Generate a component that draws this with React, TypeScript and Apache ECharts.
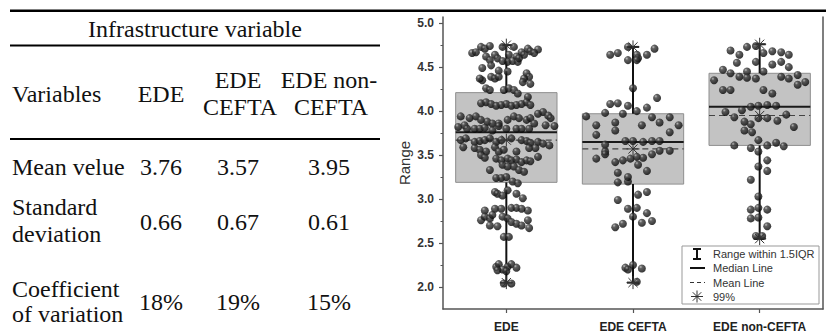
import React, { useEffect, useRef } from "react";
import * as echarts from "echarts";

// ---------- chart data ----------
const categories = ["EDE", "EDE CEFTA", "EDE non-CEFTA"];
const whiskerLow = [2.05, 2.05, 2.55];
const quartile1 = [3.19, 3.17, 3.61];
const medians = [3.76, 3.65, 4.05];
const quartile3 = [4.21, 3.97, 4.43];
const whiskerHigh = [4.75, 4.73, 4.76];
const means = [3.67, 3.57, 3.95];

const yMajorTicks = [2.0, 2.5, 3.0, 3.5, 4.0, 4.5, 5.0];
const yMinorTicks = [2.25, 2.75, 3.25, 3.75, 4.25, 4.75];

// [horizontal jitter within the category, value]
const edePoints = [
  [-0.27, 4.66], [-0.24, 4.67], [-0.2, 4.73], [-0.17, 4.71], [-0.13, 4.74], [-0.16, 4.62],
  [-0.03, 4.73], [0.06, 4.73], [0.12, 4.67], [0.17, 4.71], [0.19, 4.68], [0.25, 4.7],
  [0.22, 4.66], [0.02, 4.64], [0.08, 4.62], [0.14, 4.64], [-0.09, 4.64], [-0.07, 4.6],
  [-0.13, 4.58], [-0.12, 4.52], [-0.19, 4.49], [-0.06, 4.46], [0.01, 4.56], [0.05, 4.57],
  [0.09, 4.56], [0.1, 4.6], [-0.03, 4.57], [-0.19, 4.35], [-0.12, 4.39], [-0.09, 4.37],
  [-0.06, 4.39], [0.01, 4.45], [0.16, 4.43], [0.18, 4.39], [0.14, 4.37], [0.19, 4.31],
  [0.13, 4.33], [-0.21, 4.37], [-0.16, 4.26], [-0.02, 4.24], [0.02, 4.26], [0.06, 4.24],
  [0.09, 4.2], [0.17, 4.16], [-0.13, 4.24],
  [-0.2, 4.09], [-0.16, 4.1], [-0.12, 4.08], [-0.08, 4.06], [-0.04, 4.07], [0.0, 4.08],
  [0.04, 4.06], [0.08, 4.07], [0.12, 4.08], [0.16, 4.1], [0.19, 4.07],
  [-0.36, 3.94], [-0.29, 3.92], [-0.24, 3.94], [-0.2, 3.9], [-0.15, 3.88], [-0.11, 3.86],
  [-0.06, 3.86], [0.01, 3.9], [0.06, 3.94], [0.1, 3.92], [0.16, 3.9], [0.19, 3.92],
  [0.25, 3.97], [0.29, 3.99], [0.33, 3.95], [0.35, 3.92], [0.22, 3.86],
  [-0.38, 3.82], [-0.33, 3.84], [-0.31, 3.8], [-0.25, 3.8], [-0.21, 3.8], [-0.17, 3.81],
  [-0.11, 3.78], [-0.06, 3.83], [0.0, 3.8], [0.08, 3.8], [0.12, 3.8], [0.18, 3.8],
  [0.31, 3.84], [0.38, 3.83],
  [-0.36, 3.67], [-0.32, 3.69], [-0.25, 3.65], [-0.21, 3.66], [-0.17, 3.67], [-0.13, 3.69],
  [-0.08, 3.65], [-0.04, 3.67], [0.04, 3.69], [0.12, 3.67], [0.16, 3.66], [0.19, 3.64],
  [0.25, 3.65], [0.29, 3.63], [0.34, 3.61],
  [-0.34, 3.59], [-0.25, 3.58], [-0.21, 3.56], [-0.16, 3.54], [-0.09, 3.59], [-0.06, 3.54],
  [-0.02, 3.56], [0.08, 3.54], [0.18, 3.58], [0.23, 3.58], [0.25, 3.48],
  [-0.2, 3.5], [-0.17, 3.47], [-0.08, 3.46], [-0.04, 3.44], [0.01, 3.46], [0.04, 3.44],
  [0.08, 3.45], [0.12, 3.42], [0.16, 3.44], [0.19, 3.43], [-0.03, 3.39], [0.01, 3.37],
  [0.06, 3.37], [0.1, 3.33], [0.14, 3.31], [-0.13, 3.33],
  [-0.08, 3.24], [-0.04, 3.24], [0.0, 3.25], [0.05, 3.2], [0.09, 3.18],
  [-0.09, 3.08], [-0.07, 3.06], [-0.03, 3.04], [0.01, 3.1], [0.08, 3.06], [0.13, 3.01],
  [-0.17, 2.87], [-0.09, 2.89], [-0.04, 2.89], [0.04, 2.9], [0.08, 2.9], [0.17, 2.87],
  [0.12, 2.89], [-0.2, 2.76], [-0.17, 2.8], [-0.13, 2.78], [-0.11, 2.82], [-0.03, 2.8],
  [0.01, 2.78], [0.04, 2.74], [0.08, 2.72], [0.12, 2.7], [0.18, 2.67], [0.17, 2.76],
  [-0.13, 2.7], [-0.07, 2.69], [-0.02, 2.57], [0.02, 2.57],
  [-0.08, 2.23], [-0.06, 2.26], [-0.03, 2.2], [0.01, 2.23], [0.04, 2.26], [0.08, 2.22],
  [-0.07, 2.19], [0.0, 2.18], [-0.02, 2.04], [0.04, 2.04],
];

const ceftaPoints = [
  [-0.18, 4.64], [-0.12, 4.66], [-0.04, 4.73], [0.03, 4.64], [0.04, 4.6], [-0.04, 4.58],
  [0.03, 4.58], [0.11, 4.64], [0.17, 4.71], [0.0, 4.26], [-0.18, 4.08], [-0.12, 4.09],
  [-0.04, 4.06], [0.19, 4.15], [0.11, 4.04], [0.03, 4.0], [-0.08, 3.97], [-0.22, 3.98],
  [-0.37, 3.94], [-0.29, 3.84], [-0.29, 3.73], [-0.14, 3.87], [-0.14, 3.78], [0.07, 3.84],
  [0.15, 3.93], [0.21, 3.87], [0.29, 3.93], [0.36, 3.84], [0.29, 3.76], [-0.22, 3.62],
  [-0.06, 3.66], [0.0, 3.66], [0.08, 3.65], [0.15, 3.66], [0.21, 3.66], [-0.22, 3.54],
  [0.21, 3.55], [0.29, 3.55], [-0.29, 3.46], [-0.22, 3.51], [-0.14, 3.42], [-0.08, 3.44],
  [-0.02, 3.46], [0.03, 3.48], [0.08, 3.47], [0.15, 3.51], [0.04, 3.39], [0.11, 3.32],
  [-0.12, 3.3], [-0.12, 3.19], [-0.04, 3.2], [-0.04, 3.25], [0.04, 3.05], [0.11, 3.08],
  [-0.12, 2.99], [-0.04, 2.89], [0.03, 2.9], [0.11, 2.84], [0.0, 2.8], [0.07, 2.73],
  [0.15, 2.75], [-0.14, 2.68], [-0.08, 2.72], [0.0, 2.25], [-0.06, 2.22], [-0.04, 2.2],
  [0.07, 2.21], [0.03, 2.06],
];

const nonCeftaPoints = [
  [-0.23, 4.69], [-0.16, 4.64], [-0.1, 4.73], [-0.03, 4.74], [0.03, 4.66], [0.1, 4.68],
  [0.17, 4.67], [0.23, 4.64], [-0.18, 4.55], [-0.03, 4.56], [0.1, 4.53], [0.17, 4.56],
  [0.23, 4.5], [-0.29, 4.47], [-0.23, 4.43], [-0.16, 4.39], [-0.1, 4.45], [-0.1, 4.38],
  [-0.03, 4.37], [0.03, 4.45], [0.17, 4.39], [0.23, 4.37], [0.3, 4.41], [0.3, 4.3],
  [0.36, 4.33], [-0.36, 4.35], [-0.29, 4.24], [-0.23, 4.24], [0.03, 4.24], [0.1, 4.2],
  [-0.27, 3.99], [-0.2, 3.93], [-0.14, 4.01], [-0.07, 4.05], [-0.01, 4.06], [0.06, 4.07],
  [0.13, 4.06], [-0.12, 3.88], [-0.07, 3.85], [-0.12, 3.78], [-0.06, 3.76], [-0.01, 3.92],
  [0.06, 3.92], [0.14, 3.89], [0.21, 3.96], [0.27, 3.82], [-0.2, 3.61], [-0.07, 3.58],
  [-0.01, 3.67], [0.06, 3.61], [0.13, 3.64], [0.19, 3.6], [-0.01, 3.54], [0.06, 3.44],
  [-0.01, 3.37], [0.06, 3.32], [-0.07, 3.22], [-0.01, 3.03], [-0.07, 2.88], [-0.01, 2.9],
  [0.06, 2.88], [-0.07, 2.78], [-0.01, 2.79], [0.06, 2.69], [-0.03, 2.58], [0.02, 2.58],
];

const pointGroups = [edePoints, ceftaPoints, nonCeftaPoints];

// ---------- table data ----------
const tableTitle = "Infrastructure variable";
const tableFirstHeader = "Variables";
const tableColumnHeaders = [["EDE"], ["EDE", "CEFTA"], ["EDE non-", "CEFTA"]];
const tableRowLabels = [["Mean velue"], ["Standard", "deviation"], ["Coefficient", "of variation"]];
const meanValues = ["3.76", "3.57", "3.95"];
const sdValues = ["0.66", "0.67", "0.61"];
const cvValues = ["18%", "19%", "15%"];
const tableRows = [meanValues, sdValues, cvValues];

const legendLabels = ["Range within 1.5IQR", "Median Line", "Mean Line", "99%"];

const SERIF = "'Liberation Serif', 'Times New Roman', serif";
const SANS = "'Liberation Sans', Arial, sans-serif";

function starLines(cx: number, cy: number, r: number) {
  const out: any[] = [];
  for (let k = 0; k < 4; k++) {
    const a = (k * Math.PI) / 4;
    const dx = r * Math.cos(a);
    const dy = r * Math.sin(a);
    out.push({
      type: "line",
      shape: { x1: cx - dx, y1: cy - dy, x2: cx + dx, y2: cy + dy },
      style: { stroke: "#333", lineWidth: 1 },
    });
  }
  return out;
}

export default function App() {
  const ref = useRef<HTMLDivElement>(null);

  useEffect(() => {
    document.body.style.margin = "0";
    const chart = echarts.init(ref.current!, null, { renderer: "svg" });

    const ballColor = new echarts.graphic.RadialGradient(0.35, 0.3, 0.7, [
      { offset: 0, color: "#b0b0b0" },
      { offset: 0.3, color: "#3a3a3a" },
      { offset: 1, color: "#050505" },
    ]);

    // table graphics
    const FS = 24;
    const colCenters = [161, 238, 329];
    const graphics: any[] = [];
    const txt = (text: string, x: number, y: number, align: string) =>
      graphics.push({
        type: "text",
        x,
        y,
        z: 100,
        style: { text, fill: "#111", font: `${FS}px ${SERIF}`, align, verticalAlign: "middle" },
      });
    const hline = (x1: number, x2: number, y: number, w: number) =>
      graphics.push({ type: "line", z: 100, shape: { x1, y1: y, x2, y2: y }, style: { stroke: "#000", lineWidth: w } });

    hline(10, 826, 10.7, 2.6);
    hline(10, 380, 45.6, 2);
    hline(10, 380, 139, 2);
    txt(tableTitle, 195, 29, "center");
    txt(tableFirstHeader, 12, 94, "left");
    tableColumnHeaders.forEach((lines, i) => {
      if (lines.length === 1) txt(lines[0], colCenters[i], 94, "center");
      else {
        txt(lines[0], colCenters[i], 80, "center");
        txt(lines[1], colCenters[i] + 2, 107, "center");
      }
    });
    const rowLabelYs = [[167], [207, 234], [289, 314]];
    const rowValueYs = [167, 222, 302];
    tableRowLabels.forEach((lines, r) => {
      lines.forEach((l, k) => txt(l, 12, rowLabelYs[r][k], "left"));
      tableRows[r].forEach((v, c) => txt(v, colCenters[c], rowValueYs[r], "center"));
    });

    // legend box
    const lx = 682, ly = 246;
    graphics.push({
      type: "rect",
      z: 100,
      shape: { x: lx, y: ly, width: 137, height: 58 },
      style: { fill: "#fff", stroke: "#999", lineWidth: 1 },
    });
    const rowY = [254, 268, 282.5, 296.5];
    const symX = 697;
    graphics.push({ type: "line", z: 101, shape: { x1: symX, y1: 249, x2: symX, y2: 259 }, style: { stroke: "#111", lineWidth: 2 } });
    graphics.push({ type: "line", z: 101, shape: { x1: symX - 4, y1: 249, x2: symX + 4, y2: 249 }, style: { stroke: "#111", lineWidth: 2 } });
    graphics.push({ type: "line", z: 101, shape: { x1: symX - 4, y1: 259, x2: symX + 4, y2: 259 }, style: { stroke: "#111", lineWidth: 2 } });
    graphics.push({ type: "line", z: 101, shape: { x1: 690, y1: rowY[1], x2: 705, y2: rowY[1] }, style: { stroke: "#111", lineWidth: 2 } });
    graphics.push({ type: "line", z: 101, shape: { x1: 690, y1: rowY[2], x2: 705, y2: rowY[2] }, style: { stroke: "#333", lineWidth: 1.2, lineDash: [4, 3] } });
    starLines(symX, rowY[3], 6).forEach((s) => graphics.push({ ...s, z: 101 }));
    legendLabels.forEach((l, i) =>
      graphics.push({
        type: "text",
        z: 101,
        x: 713,
        y: rowY[i],
        style: { text: l, fill: "#333", font: `11px ${SANS}`, align: "left", verticalAlign: "middle" },
      })
    );

    const boxData = categories.map((_, i) => [
      i, whiskerLow[i], quartile1[i], medians[i], quartile3[i], whiskerHigh[i], means[i],
    ]);
    const starData = categories.map((_, i) => [i, whiskerLow[i], whiskerHigh[i], means[i]]);

    const option: any = {
      animation: false,
      grid: { left: 443, right: 3, top: 17, bottom: 26 },
      xAxis: {
        type: "value",
        min: -0.5,
        max: 2.5,
        splitLine: { show: false },
        axisLine: { show: true, onZero: false, lineStyle: { color: "#555", width: 1.5 } },
        axisTick: { show: true, customValues: [0, 1, 2], length: 4, lineStyle: { color: "#555", width: 1.2 } },
        axisLabel: {
          customValues: [0, 1, 2],
          formatter: (v: number) => categories[Math.round(v)] ?? "",
          fontFamily: SANS,
          fontWeight: "bold",
          fontSize: 12,
          color: "#222",
          margin: 12,
        },
      },
      yAxis: [
        {
          type: "value",
          position: "left",
          min: 1.75,
          max: 5.07,
          splitLine: { show: false },
          axisLine: { show: true, onZero: false, lineStyle: { color: "#555", width: 1.5 } },
          axisTick: { show: true, customValues: yMajorTicks, length: 4, lineStyle: { color: "#555", width: 1.2 } },
          axisLabel: {
            customValues: yMajorTicks,
            formatter: (v: number) => v.toFixed(1),
            fontFamily: SANS,
            fontWeight: "bold",
            fontSize: 12,
            color: "#333",
            margin: 9,
          },
          name: "Range",
          nameLocation: "middle",
          nameGap: 31,
          nameTextStyle: { fontFamily: SANS, fontSize: 15, color: "#333" },
        },
        {
          type: "value",
          position: "left",
          min: 1.75,
          max: 5.07,
          splitLine: { show: false },
          axisLine: { show: false, onZero: false },
          axisTick: { show: true, customValues: yMinorTicks, length: 2.5, lineStyle: { color: "#555", width: 1 } },
          axisLabel: { show: false },
        },
        {
          type: "value",
          position: "right",
          min: 1.75,
          max: 5.07,
          splitLine: { show: false },
          axisLine: { show: true, onZero: false, lineStyle: { color: "#555", width: 1.5 } },
          axisTick: { show: false },
          axisLabel: { show: false },
        },
      ],
      graphic: graphics,
      series: [
        {
          type: "custom",
          z: 1,
          data: boxData,
          encode: { x: 0, y: [1, 2, 3, 4, 5, 6] },
          renderItem: (params: any, api: any) => {
            const x = api.value(0);
            const [cx, pLow] = api.coord([x, api.value(1)]);
            const pQ1 = api.coord([x, api.value(2)])[1];
            const pMed = api.coord([x, api.value(3)])[1];
            const pQ3 = api.coord([x, api.value(4)])[1];
            const pHigh = api.coord([x, api.value(5)])[1];
            const pMean = api.coord([x, api.value(6)])[1];
            const half = api.size([0.8, 0])[0] / 2;
            const cap = 6;
            return {
              type: "group",
              children: [
                { type: "rect", shape: { x: cx - half, y: pQ3, width: half * 2, height: pQ1 - pQ3 }, style: { fill: "#c3c3c3", stroke: "#8f8f8f", lineWidth: 1 } },
                { type: "line", shape: { x1: cx, y1: pQ3, x2: cx, y2: pHigh }, style: { stroke: "#111", lineWidth: 2 } },
                { type: "line", shape: { x1: cx, y1: pQ1, x2: cx, y2: pLow }, style: { stroke: "#111", lineWidth: 2 } },
                { type: "line", shape: { x1: cx - cap, y1: pHigh, x2: cx + cap, y2: pHigh }, style: { stroke: "#111", lineWidth: 2 } },
                { type: "line", shape: { x1: cx - cap, y1: pLow, x2: cx + cap, y2: pLow }, style: { stroke: "#111", lineWidth: 2 } },
                { type: "line", shape: { x1: cx - half, y1: pMed, x2: cx + half, y2: pMed }, style: { stroke: "#1a1a1a", lineWidth: 2 } },
                { type: "line", shape: { x1: cx - half, y1: pMean, x2: cx + half, y2: pMean }, style: { stroke: "#444", lineWidth: 1.2, lineDash: [6, 4] } },
              ],
            };
          },
        },
        ...pointGroups.map((pts, i) => ({
          type: "scatter",
          z: 2,
          symbol: "circle",
          symbolSize: 8,
          itemStyle: { color: ballColor },
          data: pts.map(([j, v]) => [i + j, v]),
        })),
        {
          type: "custom",
          z: 3,
          data: starData,
          encode: { x: 0, y: [1, 2, 3] },
          renderItem: (params: any, api: any) => {
            const x = api.value(0);
            const children: any[] = [];
            [1, 2, 3].forEach((d) => {
              const [px, py] = api.coord([x, api.value(d)]);
              children.push(...starLines(px, py, 6.5));
            });
            return { type: "group", children };
          },
        },
      ],
    };

    chart.setOption(option);
    return () => chart.dispose();
  }, []);

  return <div ref={ref} style={{ width: 826, height: 335 }} />;
}
